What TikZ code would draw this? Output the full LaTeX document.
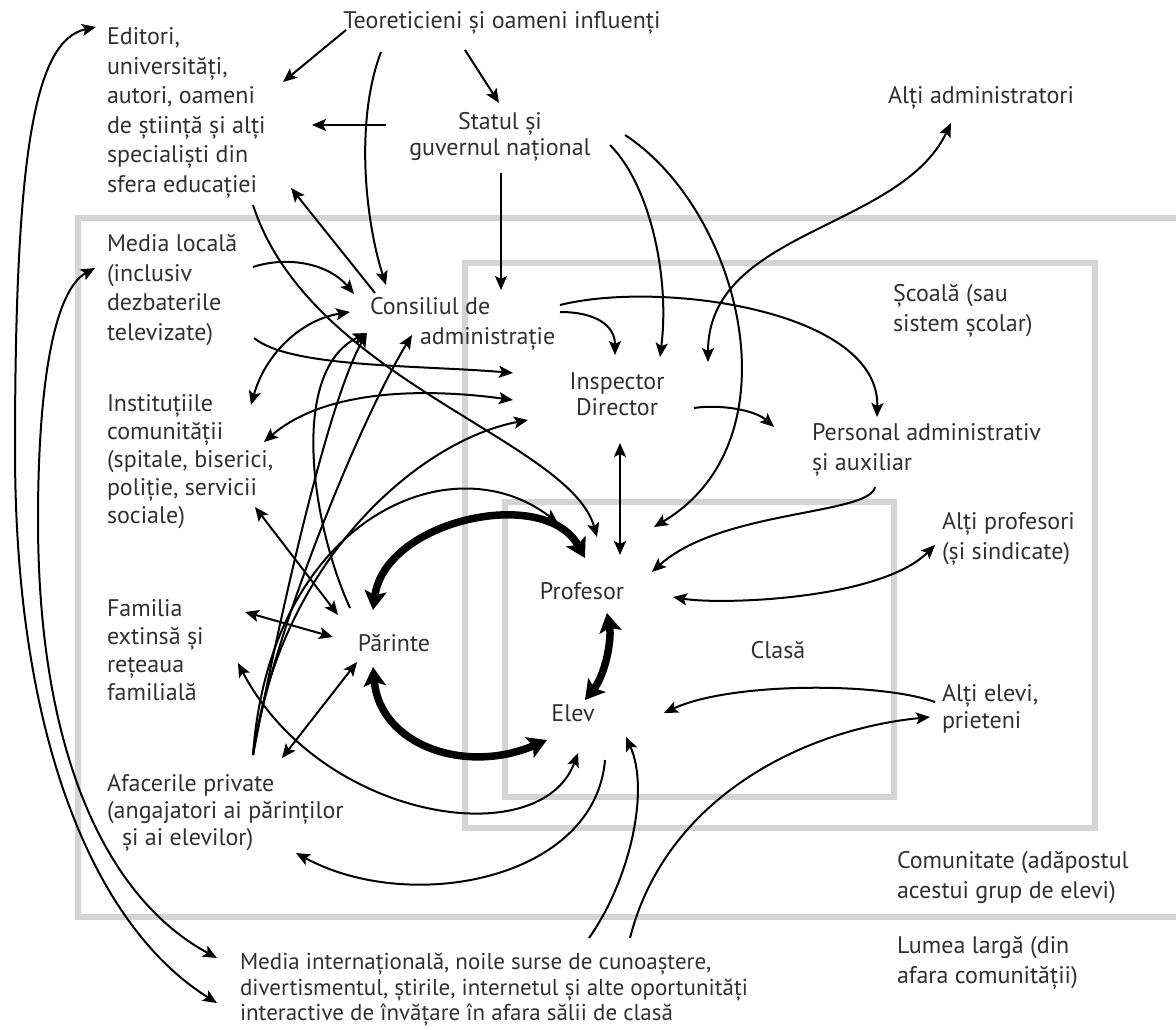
\documentclass[tikz,border=0pt]{standalone}
\usepackage{fontspec}
\setmainfont{PT Sans}
\usetikzlibrary{arrows.meta}
\definecolor{ink}{RGB}{48,48,48}
\definecolor{frame}{RGB}{212,212,212}
\tikzset{
  hd/.tip={Stealth[length=14pt,width=12pt,inset=3pt]},
  bighd/.tip={Stealth[length=19pt,width=22pt,inset=4pt]},
}
\newcommand\lead[1]{\fontsize{24}{#1}\selectfont}
\begin{document}
\begin{tikzpicture}[x=1pt,y=1pt,
  lbl/.style={inner sep=0pt, outer sep=0pt, text=ink, font=\lead{29.5}, align=left, anchor=north west},
  clbl/.style={lbl, align=center, anchor=north},
  frm/.style={draw=frame, line width=5.5pt},
  con/.style={line width=2pt, -hd},
  dcon/.style={line width=2pt, hd-hd},
  big/.style={line width=7.5pt, bighd-bighd},
]
\useasboundingbox (0,0) rectangle (1176,-1030);
\clip (0,0) rectangle (1176,-1030);

% nested frames: community, school, class
\draw[frm] (1190,-218) -- (78,-218) -- (78,-917) -- (1190,-917);
\draw[frm] (465,-263) rectangle (1095,-828);
\draw[frm] (505,-502) rectangle (894,-797);

% labels
\node[clbl] (teo) at (502,-8) {\strut Teoreticieni și oameni influenți};
\node[lbl] (edit) at (107,-24) {\strut Editori,\\universități,\\autori, oameni\\de știință și alți\\specialiști din\\sfera educației};
\node[clbl, font=\lead{26}] (stat) at (500,-111) {\strut Statul și\\guvernul național};
\node[lbl] (aadm) at (888,-83) {\strut Alți administratori};
\node[lbl] (mloc) at (107,-231) {\strut Media locală\\(inclusiv\\dezbaterile\\televizate)};
\node[lbl] (cons) at (370,-294) {\strut Consiliul de\\\hspace*{50pt}administrație};
\node[clbl, font=\lead{26}] (insp) at (617,-371) {\strut Inspector\\Director};
\node[lbl] (scoala) at (893,-281) {\strut Școală (sau\\sistem școlar)};
\node[lbl, font=\lead{30}] (pers) at (812,-419) {\strut Personal administrativ\\și auxiliar};
\node[lbl, font=\lead{28}] (inst) at (107,-392) {\strut Instituțiile\\comunității\\(spitale, biserici,\\poliție, servicii\\sociale)};
\node[lbl] (aprof) at (942,-509) {\strut Alți profesori\\(și sindicate)};
\node[clbl] (prof) at (582,-579) {\strut Profesor};
\node[clbl] (par) at (394,-631) {\strut Părinte};
\node[lbl, font=\lead{28}] (fam) at (107,-597) {\strut Familia\\extinsă și\\rețeaua\\familială};
\node[clbl] (clasa) at (778,-638) {\strut Clasă};
\node[clbl] (elev) at (573,-701) {\strut Elev};
\node[lbl, font=\lead{27}] (aelev) at (942,-683) {\strut Alți elevi,\\prieteni};
\node[lbl, font=\lead{27}] (afac) at (107,-773) {\strut Afacerile private\\(angajatori ai părinților\\\hspace*{15pt}și ai elevilor)};
\node[lbl] (com) at (897,-848) {\strut Comunitate (adăpostul\\acestui grup de elevi)};
\node[lbl] (lume) at (897,-933) {\strut Lumea largă (din\\afara comunității)};
\node[lbl, font=\fontsize{23}{25.5}\selectfont] (mint) at (240,-952) {\strut Media internațională, noile surse de cunoaștere,\\divertismentul, știrile, internetul și alte oportunități\\interactive de învățare în afara sălii de clasă};

% theorists and the state
\draw[con] ([shift={(-156,-22)}]teo.north) -- ([shift={(176,-58)}]edit.north west);
\draw[con] ([shift={(-37,-42)}]teo.north) -- ([shift={(-1,8)}]stat.north);
\draw[con] ([shift={(-121,-44)}]teo.north) .. controls +(-26,-68) and +(-21,65) .. ([shift={(16,9)}]cons.north west);
\draw[con] ([shift={(-114,-14)}]stat.north) -- ([shift={(205,-101)}]edit.north west);
\draw[con] ([shift={(1,-62)}]stat.north) -- ([shift={(131,4)}]cons.north west);
\draw[con] ([shift={(110,-34)}]stat.north) .. controls +(40,-40) and +(10,80) .. ([shift={(43,14)}]insp.north);
\draw[con] ([shift={(125,-24)}]stat.north) .. controls +(115,-75) and +(146,87) .. ([shift={(72,52)}]prof.north);

% school administration
\draw[dcon] ([shift={(91,9)}]insp.north) .. controls +(0,132) and +(-51,-107) .. ([shift={(63,-40)}]aadm.north west);
\draw[con] ([shift={(190,-18)}]cons.north west) .. controls +(35,0) and +(0,30) .. ([shift={(-2,16)}]insp.north);
\draw[con] ([shift={(190,-11)}]cons.north west) .. controls +(100,25) and +(3,107) .. ([shift={(65,2)}]pers.north west);
\draw[con] ([shift={(77,-37)}]insp.north) .. controls +(26,4) and +(-19,17) .. ([shift={(-38,-8)}]pers.north west);
\draw[dcon] ([shift={(3,-72)}]insp.north) -- ([shift={(38,24)}]prof.north);
\draw[con] ([shift={(63,-68)}]pers.north west) .. controls +(-5,-28) and +(68,62) .. ([shift={(70,7)}]prof.north);
\draw[con] ([shift={(5,1)}]cons.north west) -- ([shift={(184,-164)}]edit.north west);
\draw[con] ([shift={(146,-181)}]edit.north west) .. controls +(57,-175) and +(-27,97) .. ([shift={(15,42)}]prof.north);

% teacher, pupil and peers
\draw[dcon] ([shift={(91,-18)}]prof.north) .. controls +(47,-8) and +(-55,-55) .. ([shift={(-7,-36)}]aprof.north west);
\draw[con] ([shift={(-7,-19)}]aelev.north west) .. controls +(-55,20) and +(66,31) .. ([shift={(91,-12)}]elev.north);
\draw[con] ([shift={(390,14)}]mint.north west) .. controls +(35,138) and +(-130,-13) .. ([shift={(-12,-34)}]aelev.north west);
\draw[con] ([shift={(349,14)}]mint.north west) .. controls +(41,58) and +(24,-53) .. ([shift={(53,-36)}]elev.north);
\draw[con] ([shift={(32,-59)}]elev.north) .. controls +(-10,-120) and +(114,-62) .. ([shift={(189,-80)}]afac.north west);

% the central triangle
\draw[big] ([shift={(-21,-36)}]par.north) .. controls +(7,-78) and +(-82,-35) .. ([shift={(-26,-39)}]elev.north);
\draw[big] ([shift={(-21,21)}]par.north) .. controls +(12,90) and +(-40,73) .. ([shift={(3,21)}]prof.north);
\draw[big] ([shift={(25,-34)}]prof.north) .. controls +(5,-27) and +(20,25) .. ([shift={(12,1)}]elev.north);

% parent and community
\draw[dcon] ([shift={(138,-15)}]fam.north west) -- ([shift={(-61,-6)}]par.north);
\draw[dcon] ([shift={(175,15)}]afac.north west) -- ([shift={(-37,-31)}]par.north);
\draw[dcon] ([shift={(131,-66)}]fam.north west) .. controls +(82,-157) and +(-38,-102) .. ([shift={(5,-52)}]elev.north);
\draw[dcon] ([shift={(148,-115)}]inst.north west) -- ([shift={(-56,16)}]par.north);
\draw[con] ([shift={(-44,23)}]par.north) .. controls +(-40,88) and +(-77,-37) .. ([shift={(-3,-39)}]cons.north west);
\draw[dcon] ([shift={(144,-13)}]inst.north west) .. controls +(14,50) and +(-50,-8) .. ([shift={(-20,-18)}]cons.north west);
\draw[dcon] ([shift={(157,-50)}]inst.north west) .. controls +(66,57) and +(-73,10) .. ([shift={(-104,-29)}]insp.north);
\draw[con] ([shift={(146,-36)}]mloc.north west) .. controls +(37,12) and +(-24,29) .. ([shift={(-16,0)}]cons.north west);
\draw[con] ([shift={(147,-107)}]mloc.north west) .. controls +(36,-30) and +(-93,8) .. ([shift={(-104,-2)}]insp.north);

% private business fan
\draw[con] ([shift={(146,18)}]afac.north west) .. controls +(25,130) and +(-40,-70) .. ([shift={(-3,-39)}]cons.north west);
\draw[con] ([shift={(146,18)}]afac.north west) .. controls +(17,115) and +(-52,-85) .. ([shift={(42,-41)}]cons.north west);
\draw[con] ([shift={(146,18)}]afac.north west) .. controls +(27,195) and +(-108,-20) .. ([shift={(-89,-49)}]insp.north);
\draw[con] ([shift={(146,18)}]afac.north west) .. controls +(17,235) and +(-108,83) .. ([shift={(-24,56)}]prof.north);

% wider world
\draw[dcon] ([shift={(-11,-3)}]edit.north west) .. controls +(-61,-13) and +(0,300) .. ++(-81,-423) .. controls +(0,-300) and +(-117,73) .. ([shift={(-23,-51)}]mint.north west);
\draw[dcon] ([shift={(-12,-37)}]mloc.north west) .. controls +(-40,-22) and +(0,140) .. ++(-57,-252) .. controls +(0,-240) and +(-107,58) .. ([shift={(-23,-6)}]mint.north west);
\end{tikzpicture}
\end{document}
